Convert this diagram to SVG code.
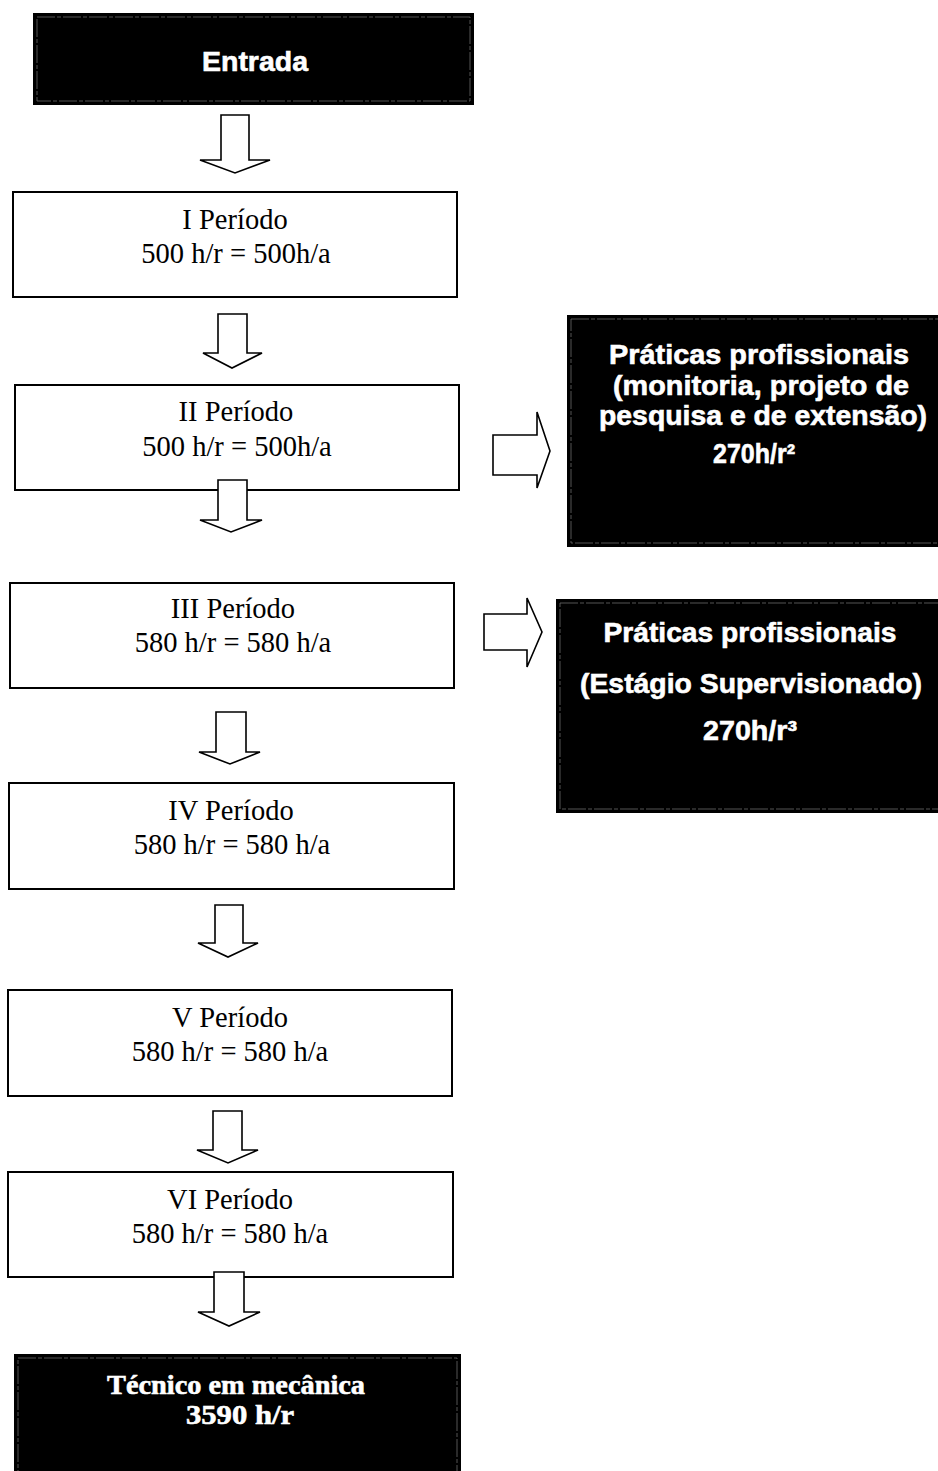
<svg xmlns="http://www.w3.org/2000/svg" width="938" height="1471" viewBox="0 0 938 1471">
<style>
  .wbox { fill: #ffffff; stroke: #000000; stroke-width: 2; }
  .bbox { fill: #000000; stroke: #000000; stroke-width: 2; }
  .inner { fill: none; stroke: #6a6a6a; stroke-width: 0.8; stroke-dasharray: 18 2 4 2; }
  .arrow { fill: #ffffff; stroke: #000000; stroke-width: 1.6; stroke-linejoin: miter; }
  .per { font-family: "Liberation Serif", "Times New Roman", serif; font-size: 28.5px; fill: #000000; text-anchor: middle; }
  .wsans { font-family: "Liberation Sans", Arial, sans-serif; font-weight: bold; font-size: 28px; fill: #ffffff; stroke: #ffffff; stroke-width: 0.6; text-anchor: middle; }
  .wserif { font-family: "Liberation Serif", "Times New Roman", serif; font-weight: bold; font-size: 28px; fill: #ffffff; stroke: #ffffff; stroke-width: 0.6; text-anchor: middle; }
</style>

<g id="entrada">
  <rect class="bbox" x="34" y="14" width="439" height="90"/>
  <rect class="inner" x="37" y="17" width="433" height="84"/>
  <text class="wsans" x="255" y="71" textLength="106" lengthAdjust="spacingAndGlyphs">Entrada</text>
</g>

<g id="periodo1">
  <rect class="wbox" x="13" y="192" width="444" height="105"/>
  <text class="per" x="235" y="229">I Período</text>
  <text class="per" x="236" y="263">500 h/r = 500h/a</text>
</g>

<g id="periodo2">
  <rect class="wbox" x="15" y="385" width="444" height="105"/>
  <text class="per" x="236" y="421">II Período</text>
  <text class="per" x="237" y="456">500 h/r = 500h/a</text>
</g>

<g id="periodo3">
  <rect class="wbox" x="10" y="583" width="444" height="105"/>
  <text class="per" x="233" y="618">III Período</text>
  <text class="per" x="233" y="652">580 h/r = 580 h/a</text>
</g>

<g id="periodo4">
  <rect class="wbox" x="9" y="783" width="445" height="106"/>
  <text class="per" x="231" y="820">IV Período</text>
  <text class="per" x="232" y="854">580 h/r = 580 h/a</text>
</g>

<g id="periodo5">
  <rect class="wbox" x="8" y="990" width="444" height="106"/>
  <text class="per" x="230" y="1027">V Período</text>
  <text class="per" x="230" y="1061">580 h/r = 580 h/a</text>
</g>

<g id="periodo6">
  <rect class="wbox" x="8" y="1172" width="445" height="105"/>
  <text class="per" x="230" y="1209">VI Período</text>
  <text class="per" x="230" y="1243">580 h/r = 580 h/a</text>
</g>

<g id="tecnico">
  <rect class="bbox" x="15" y="1355" width="445" height="125"/>
  <rect class="inner" x="18" y="1358" width="439" height="120"/>
  <text class="wserif" x="236" y="1394" textLength="258" lengthAdjust="spacingAndGlyphs">Técnico em mecânica</text>
  <text class="wserif" x="240" y="1424" textLength="108" lengthAdjust="spacingAndGlyphs">3590 h/r</text>
</g>

<g id="praticas1">
  <rect class="bbox" x="568" y="316" width="380" height="230"/>
  <rect class="inner" x="571" y="319" width="380" height="224"/>
  <text class="wsans" x="759" y="364" textLength="300" lengthAdjust="spacingAndGlyphs">Práticas profissionais</text>
  <text class="wsans" x="761" y="395" textLength="296" lengthAdjust="spacingAndGlyphs">(monitoria, projeto de</text>
  <text class="wsans" x="763" y="425" textLength="328" lengthAdjust="spacingAndGlyphs">pesquisa e de extensão)</text>
  <text class="wsans" x="754" y="463" textLength="82" lengthAdjust="spacingAndGlyphs">270h/r²</text>
</g>

<g id="praticas2">
  <rect class="bbox" x="557" y="600" width="391" height="212"/>
  <rect class="inner" x="560" y="603" width="391" height="206"/>
  <text class="wsans" x="750" y="642" textLength="293" lengthAdjust="spacingAndGlyphs">Práticas profissionais</text>
  <text class="wsans" x="751" y="693" textLength="342" lengthAdjust="spacingAndGlyphs">(Estágio Supervisionado)</text>
  <text class="wsans" x="750" y="740" textLength="94" lengthAdjust="spacingAndGlyphs">270h/r³</text>
</g>

<g id="connectors">
  <polygon class="arrow" points="221,115 249,115 249,160 270,160 235,173 200,160 221,160"/>
  <polygon class="arrow" points="218,314 247,314 247,353 262,353 232,368 203,353 218,353"/>
  <polygon class="arrow" points="218,480 247,480 247,520 262,520 231,532 200,520 218,520"/>
  <polygon class="arrow" points="216,712 246,712 246,752 260,752 230,764 199,752 216,752"/>
  <polygon class="arrow" points="215,905 243,905 243,943 258,943 228,957 198,943 215,943"/>
  <polygon class="arrow" points="213,1111 242,1111 242,1150 258,1150 228,1163 197,1150 213,1150"/>
  <polygon class="arrow" points="214,1272 244,1272 244,1312 260,1312 229,1326 198,1312 214,1312"/>
  <polygon class="arrow" points="493,435 537,435 537,412 550,451 537,488 537,475 493,475"/>
  <polygon class="arrow" points="484,614 527,614 527,598 542,632 527,667 527,650 484,650"/>
</g>
</svg>
